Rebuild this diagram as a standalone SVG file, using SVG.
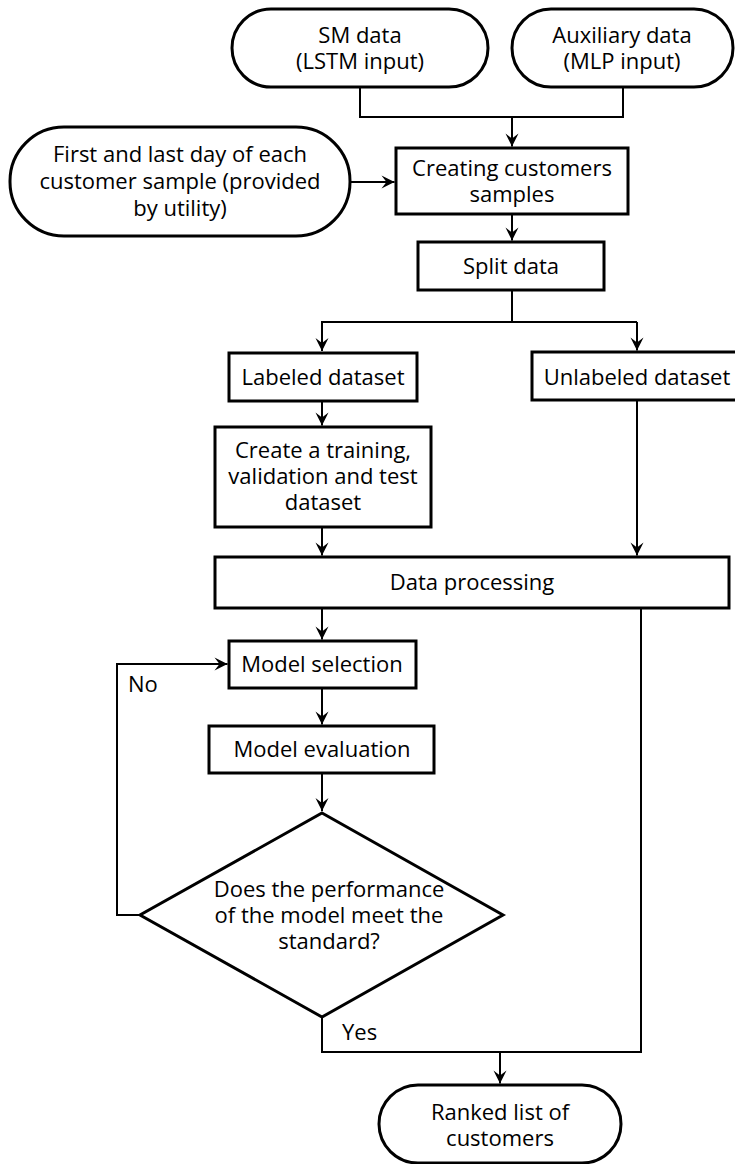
<svg xmlns="http://www.w3.org/2000/svg" width="735" height="1164" viewBox="0 0 735 1164">
<style>
.box{fill:#fff;stroke:#000;stroke-width:3}
.c{fill:none;stroke:#000;stroke-width:2}
.a{marker-end:url(#arr)}
text{font-family:"Open Sans","Noto Sans","DejaVu Sans",sans-serif;font-size:22px;fill:#000}
.m{text-anchor:middle}
</style>
<defs>
<marker id="arr" markerUnits="userSpaceOnUse" viewBox="-14 -7 15 14" markerWidth="15" markerHeight="14" refX="0" refY="0" orient="auto">
<path d="M0,0 L-13,-6.5 L-8,0 L-13,6.5 Z" fill="#000"/>
</marker>
</defs>
<rect width="735" height="1164" fill="#fff"/>
<g id="connectors">
<path class="c" d="M360,87 V117 H623 V87"/>
<path class="c a" d="M512,117 V146.5"/>
<path class="c a" d="M350,182 H394.5"/>
<path class="c a" d="M512,214 V240.5"/>
<path class="c" d="M512,290 V322"/>
<path class="c" d="M321,322 H637"/>
<path class="c a" d="M322,322 V351"/>
<path class="c a" d="M637,322 V350.5"/>
<path class="c a" d="M322,401 V425.5"/>
<path class="c a" d="M322,527 V555.5"/>
<path class="c a" d="M637,400 V555.5"/>
<path class="c a" d="M322,608 V639.5"/>
<path class="c a" d="M322,688 V724.5"/>
<path class="c a" d="M322,773 V811"/>
<path class="c a" d="M140,915 H117 V664 H227.5"/>
<path class="c" d="M322,1017 V1052 H641 V608"/>
<path class="c a" d="M500,1052 V1083.5"/>
</g>
<g id="sm-data">
<rect class="box" x="232" y="9" width="256" height="78" rx="39"/>
<text class="m" x="360" y="43">SM data</text>
<text class="m" x="360" y="69">(LSTM input)</text>
</g>
<g id="aux-data">
<rect class="box" x="512" y="9" width="221" height="78" rx="39"/>
<text class="m" x="622" y="43">Auxiliary data</text>
<text class="m" x="622" y="69">(MLP input)</text>
</g>
<g id="first-last">
<rect class="box" x="10" y="127" width="340" height="109" rx="54"/>
<text class="m" x="180" y="162">First and last day of each</text>
<text class="m" x="180" y="189">customer sample (provided</text>
<text class="m" x="180" y="216">by utility)</text>
</g>
<g id="creating">
<rect class="box" x="396" y="148" width="232" height="66"/>
<text class="m" x="512" y="176">Creating customers</text>
<text class="m" x="512" y="202">samples</text>
</g>
<g id="split">
<rect class="box" x="418" y="242" width="186" height="48"/>
<text class="m" x="511" y="274">Split data</text>
</g>
<g id="labeled">
<rect class="box" x="229" y="353" width="188" height="48"/>
<text class="m" x="323" y="385">Labeled dataset</text>
</g>
<g id="unlabeled">
<rect class="box" x="532" y="352" width="212" height="48"/>
<text class="m" x="637" y="385">Unlabeled dataset</text>
</g>
<g id="create-sets">
<rect class="box" x="215" y="427" width="216" height="100"/>
<text class="m" x="323" y="458">Create a training,</text>
<text class="m" x="323" y="484">validation and test</text>
<text class="m" x="323" y="510">dataset</text>
</g>
<g id="data-processing">
<rect class="box" x="215" y="557" width="514" height="51"/>
<text class="m" x="472" y="590">Data processing</text>
</g>
<g id="model-selection">
<rect class="box" x="229" y="641" width="187" height="47"/>
<text class="m" x="322" y="672">Model selection</text>
</g>
<g id="model-evaluation">
<rect class="box" x="209" y="726" width="225" height="47"/>
<text class="m" x="322" y="757">Model evaluation</text>
</g>
<g id="decision">
<polygon class="box" points="322,813 503,915 322,1017 140,915"/>
<text class="m" x="329" y="897">Does the performance</text>
<text class="m" x="329" y="923">of the model meet the</text>
<text class="m" x="329" y="949">standard?</text>
</g>
<g id="labels">
<text x="128" y="692">No</text>
<text x="342" y="1040">Yes</text>
</g>
<g id="ranked">
<rect class="box" x="379" y="1085" width="242" height="78" rx="39"/>
<text class="m" x="500" y="1120">Ranked list of</text>
<text class="m" x="500" y="1146">customers</text>
</g>
</svg>
